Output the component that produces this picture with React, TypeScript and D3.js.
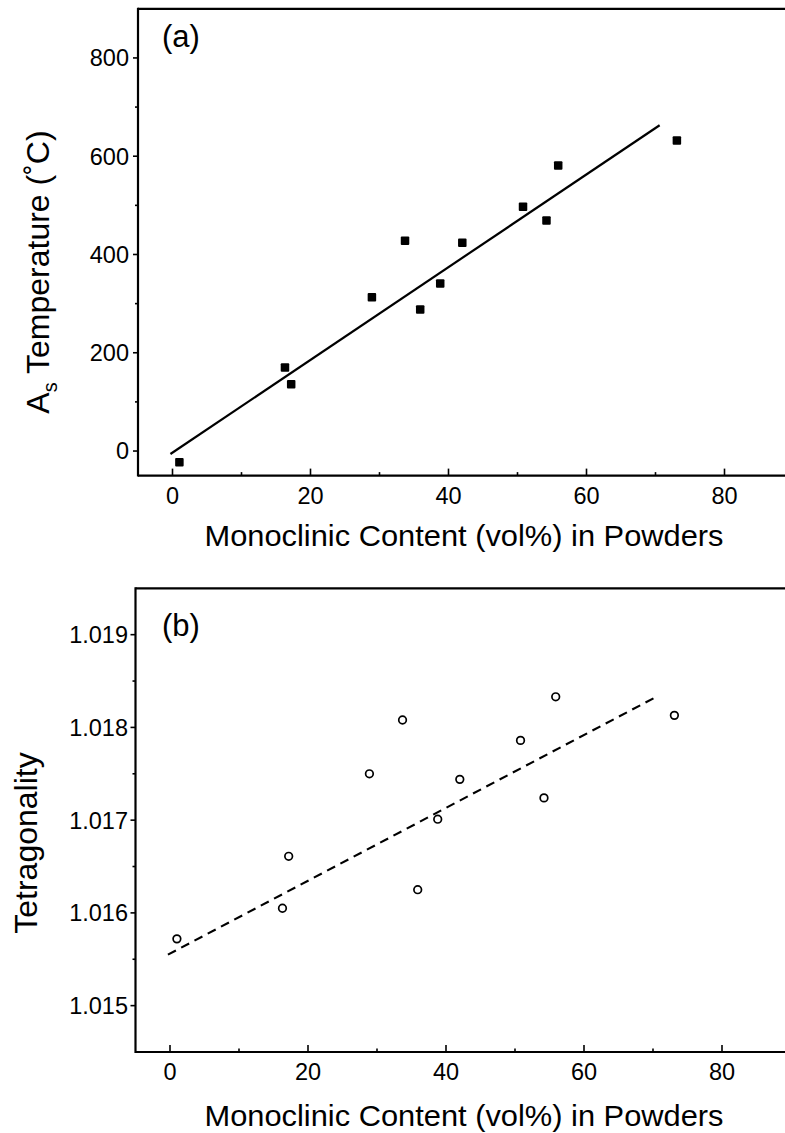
import React from "react";
import * as d3 from "d3";

// ---- data ----
const monoclinic = [1.0, 16.3, 17.2, 28.9, 33.7, 35.9, 38.8, 42.0, 50.8, 54.2, 55.9, 73.1];
const asTemperature = [-23, 170, 136, 313, 428, 288, 341, 424, 497, 469, 581, 632];
const tetragonality = [1.01572, 1.01605, 1.01661, 1.0175, 1.01808, 1.01625, 1.01701, 1.01744, 1.01786, 1.01724, 1.01833, 1.01813];

const fitTempX = [-0.3, 70.6];
const fitTempY = [-6, 663];
const fitTetX = [-0.3, 70.5];
const fitTetY = [1.01555, 1.01833];

const xMajor = [0, 20, 40, 60, 80];
const xMinor = [10, 30, 50, 70];
const tempMajor = [0, 200, 400, 600, 800];
const tempMinor = [100, 300, 500, 700];
const tetMajor = [1.015, 1.016, 1.017, 1.018, 1.019];
const tetMinor = [1.0155, 1.0165, 1.0175, 1.0185];

const FONT = "'Liberation Sans', Arial, Helvetica, sans-serif";

type PanelProps = {
  x: d3.ScaleLinear<number, number>;
  y: d3.ScaleLinear<number, number>;
  yMajor: number[];
  yMinor: number[];
  fmt: (v: number) => string;
  labelRight: number;
  letter: string;
  letterY: number;
  titleY: number;
  children?: React.ReactNode;
};

function Panel({ x, y, yMajor, yMinor, fmt, labelRight, letter, letterY, titleY, children }: PanelProps) {
  const [x0, x1] = x.range();
  const [yb, yt] = y.range();
  return (
    <g>
      {/* frame */}
      <line x1={x0} x2={x1} y1={yt} y2={yt} stroke="#000" strokeWidth={2.2} />
      <line x1={x0} x2={x1} y1={yb} y2={yb} stroke="#000" strokeWidth={2.2} />
      <line x1={x0} x2={x0} y1={yt - 1} y2={yb + 1} stroke="#000" strokeWidth={2.2} />
      {/* x ticks (inward) */}
      {xMajor.map((v) => (
        <g key={"xM" + v}>
          <line x1={x(v)} x2={x(v)} y1={yb} y2={yb - 7} stroke="#000" strokeWidth={1.6} />
          <text x={x(v)} y={yb + 28} textAnchor="middle" fontSize={23.5} fontFamily={FONT}>
            {v}
          </text>
        </g>
      ))}
      {xMinor.map((v) => (
        <line key={"xm" + v} x1={x(v)} x2={x(v)} y1={yb} y2={yb - 3.5} stroke="#000" strokeWidth={1.6} />
      ))}
      {/* y ticks (outward) */}
      {yMajor.map((v) => (
        <g key={"yM" + v}>
          <line x1={x0} x2={x0 - 5} y1={y(v)} y2={y(v)} stroke="#000" strokeWidth={1.6} />
          <text x={labelRight} y={y(v)} dy="0.36em" textAnchor="end" fontSize={23.5} fontFamily={FONT}>
            {fmt(v)}
          </text>
        </g>
      ))}
      {yMinor.map((v) => (
        <line key={"ym" + v} x1={x0} x2={x0 - 3} y1={y(v)} y2={y(v)} stroke="#000" strokeWidth={1.6} />
      ))}
      <text x={162} y={letterY} fontSize={31} fontFamily={FONT}>
        {letter}
      </text>
      <text x={464} y={titleY} textAnchor="middle" fontSize={30} fontFamily={FONT} textLength={519} lengthAdjust="spacingAndGlyphs">
        Monoclinic Content (vol%) in Powders
      </text>
      {children}
    </g>
  );
}

export default function App() {
  const xA = d3.scaleLinear().domain([-5, 90]).range([138, 793.5]);
  const yA = d3.scaleLinear().domain([-50, 900]).range([475.6, 8.8]);
  const xB = d3.scaleLinear().domain([-5, 90]).range([135.5, 791]);
  const yB = d3.scaleLinear().domain([1.0145, 1.0195]).range([1052, 588.3]);

  const line = d3.line<[number, number]>();
  const fitA = line(fitTempX.map((v, i) => [xA(v), yA(fitTempY[i])] as [number, number]));
  const fitB = line(fitTetX.map((v, i) => [xB(v), yB(fitTetY[i])] as [number, number]));

  const sq = 8.5;

  return (
    <svg
      width={785}
      height={1133}
      style={{ position: "absolute", left: 0, top: 0, background: "#fff" }}
      fontFamily={FONT}
    >
      <rect width={785} height={1133} fill="#fff" />
      <Panel
        x={xA}
        y={yA}
        yMajor={tempMajor}
        yMinor={tempMinor}
        fmt={(v) => String(v)}
        labelRight={129}
        letter="(a)"
        letterY={47}
        titleY={546}
      >
        <path d={fitA ?? ""} fill="none" stroke="#000" strokeWidth={2.2} />
        {monoclinic.map((v, i) => (
          <rect
            key={"a" + i}
            x={xA(v) - sq / 2}
            y={yA(asTemperature[i]) - sq / 2}
            width={sq}
            height={sq}
            rx={1}
            fill="#000"
          />
        ))}
      </Panel>
      <Panel
        x={xB}
        y={yB}
        yMajor={tetMajor}
        yMinor={tetMinor}
        fmt={(v) => v.toFixed(3)}
        labelRight={128}
        letter="(b)"
        letterY={636}
        titleY={1126}
      >
        <path d={fitB ?? ""} fill="none" stroke="#000" strokeWidth={2.2} strokeDasharray="9,6" />
        {monoclinic.map((v, i) => (
          <circle key={"b" + i} cx={xB(v)} cy={yB(tetragonality[i])} r={3.8} fill="none" stroke="#000" strokeWidth={1.7} />
        ))}
      </Panel>
      {/* y-axis titles */}
      <text transform="translate(49,272) rotate(-90)" textAnchor="middle" fontSize={32} fontFamily={FONT}>
        A<tspan fontSize={20} dy={8}>s</tspan>
        <tspan dy={-8}> Temperature (˚C)</tspan>
      </text>
      <text transform="translate(37,843) rotate(-90)" textAnchor="middle" fontSize={32} fontFamily={FONT}>
        Tetragonality
      </text>
    </svg>
  );
}
